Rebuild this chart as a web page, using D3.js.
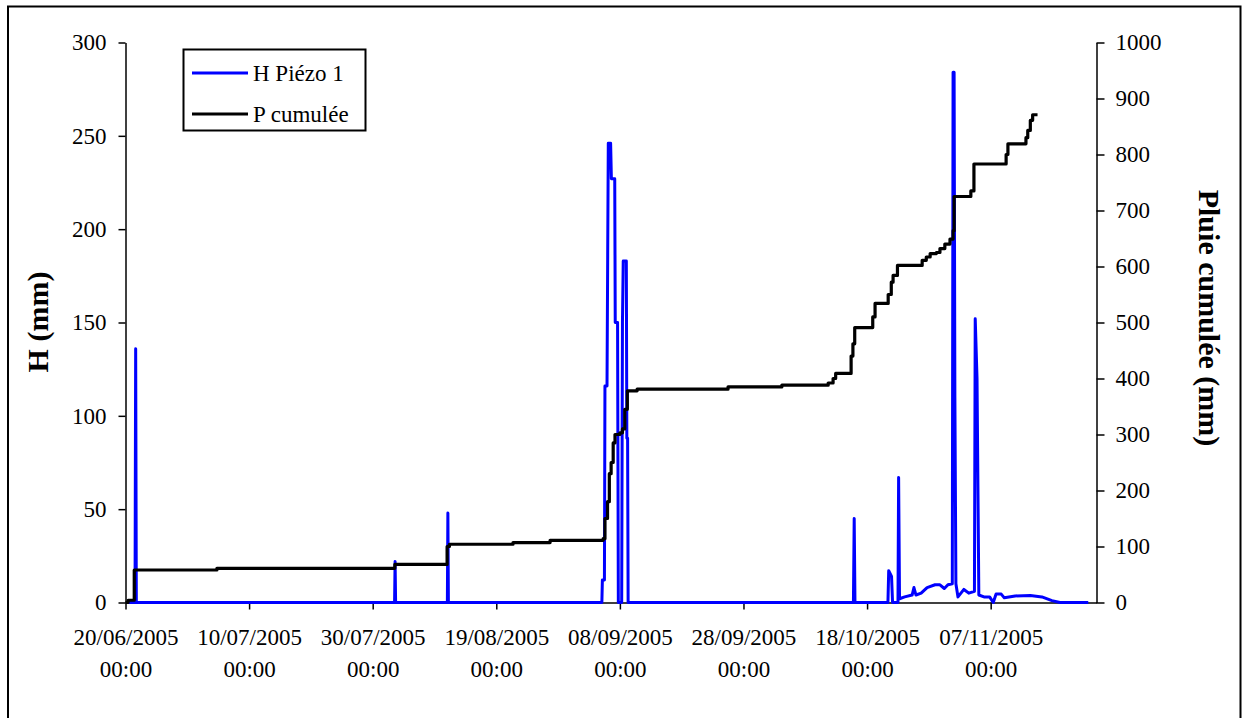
<!DOCTYPE html>
<html>
<head>
<meta charset="utf-8">
<script src="https://cdn.jsdelivr.net/npm/d3@7"></script>
<style>
  body { margin: 0; background: #fff; }
  svg { display: block; }
  text { font-family: "Liberation Serif", "Times New Roman", serif; fill: #000; }
</style>
</head>
<body>
<svg id="chart" width="1242" height="718"></svg>
<script>
// ---- data -------------------------------------------------------------
const seriesNames = ["H Piézo 1", "P cumulée"];

const xTickDates = ["20/06/2005", "10/07/2005", "30/07/2005", "19/08/2005",
                    "08/09/2005", "28/09/2005", "18/10/2005", "07/11/2005"];
const leftTicks  = [0, 50, 100, 150, 200, 250, 300];
const rightTicks = [0, 100, 200, 300, 400, 500, 600, 700, 800, 900, 1000];

// Piezometric height H (mm)
const hTimes = [
  "20/06/2005 02:00", "21/06/2005 13:00", "21/06/2005 15:30", "21/06/2005 18:00",
  "02/08/2005 13:00", "02/08/2005 15:00", "02/08/2005 17:00",
  "11/08/2005 02:00", "11/08/2005 04:00", "11/08/2005 06:00",
  "05/09/2005 02:00", "05/09/2005 04:00", "05/09/2005 12:00", "05/09/2005 14:00",
  "05/09/2005 22:00", "06/09/2005 03:00", "06/09/2005 12:00", "06/09/2005 15:00",
  "07/09/2005 04:00", "07/09/2005 06:00", "07/09/2005 15:00", "07/09/2005 18:00",
  "08/09/2005 07:00", "08/09/2005 10:00", "08/09/2005 13:00", "09/09/2005 01:00",
  "09/09/2005 03:00", "09/09/2005 06:00", "09/09/2005 08:00",
  "15/10/2005 19:00", "15/10/2005 22:00", "16/10/2005 01:00",
  "21/10/2005 09:00", "21/10/2005 12:00", "21/10/2005 23:00", "22/10/2005 03:00",
  "23/10/2005 00:00", "23/10/2005 02:30", "23/10/2005 06:00", "24/10/2005 02:00",
  "25/10/2005 07:00", "25/10/2005 14:00", "25/10/2005 22:00", "26/10/2005 18:00",
  "27/10/2005 17:00", "29/10/2005 00:00", "29/10/2005 19:00", "30/10/2005 12:00",
  "31/10/2005 02:00", "31/10/2005 19:00", "31/10/2005 22:00", "01/11/2005 02:00",
  "01/11/2005 05:00", "01/11/2005 09:00", "01/11/2005 17:00", "02/11/2005 16:00",
  "03/11/2005 11:00", "04/11/2005 09:00", "04/11/2005 12:00", "04/11/2005 19:00",
  "05/11/2005 02:00", "05/11/2005 22:00", "06/11/2005 20:00", "07/11/2005 10:00",
  "07/11/2005 21:00", "08/11/2005 17:00", "09/11/2005 05:00", "10/11/2005 23:00",
  "13/11/2005 10:00", "15/11/2005 07:00", "16/11/2005 22:00", "18/11/2005 05:00",
  "22/11/2005 19:00"
];
const hValues = [
  0, 0, 136, 0,
  0, 22, 0,
  0, 48, 0,
  0, 12, 12, 116,
  116, 246, 246, 227,
  227, 150, 150, 0,
  0, 150, 183, 183,
  88, 88, 0,
  0, 45, 0,
  0, 17, 14, 0,
  0, 67, 2, 3,
  4, 8, 4, 5,
  8, 9.5, 9.5, 7.5,
  9.5, 10, 284, 284,
  110, 10, 3, 7,
  5, 6, 152, 120,
  4, 3, 3, 0,
  4.5, 4.5, 2.5, 3.5,
  3.8, 3, 1, 0,
  0
];

// Cumulative rainfall P (mm)
const pTimes = [
  "20/06/2005 00:00", "20/06/2005 10:00", "21/06/2005 10:00", "04/07/2005 19:00",
  "02/08/2005 14:00", "11/08/2005 01:00", "11/08/2005 10:00", "21/08/2005 17:00",
  "27/08/2005 17:00", "05/09/2005 07:00", "05/09/2005 14:00", "06/09/2005 00:00",
  "06/09/2005 07:00", "06/09/2005 14:00", "06/09/2005 22:00", "07/09/2005 05:00",
  "08/09/2005 00:00", "08/09/2005 10:00", "08/09/2005 19:00", "09/09/2005 05:00",
  "10/09/2005 19:00", "25/09/2005 12:00", "04/10/2005 05:00", "11/10/2005 17:00",
  "12/10/2005 12:00", "12/10/2005 22:00", "15/10/2005 10:00", "15/10/2005 17:00",
  "16/10/2005 00:00", "18/10/2005 22:00", "19/10/2005 07:00", "21/10/2005 10:00",
  "21/10/2005 22:00", "22/10/2005 05:00", "22/10/2005 22:00", "26/10/2005 22:00",
  "27/10/2005 14:00", "28/10/2005 05:00", "29/10/2005 05:00", "29/10/2005 19:00",
  "30/10/2005 14:00", "31/10/2005 10:00", "31/10/2005 22:00", "01/11/2005 02:00",
  "03/11/2005 19:00", "04/11/2005 07:00", "09/11/2005 12:00", "09/11/2005 19:00",
  "12/11/2005 17:00", "13/11/2005 00:00", "13/11/2005 10:00", "13/11/2005 19:00",
  "14/11/2005 14:00"
];
const pValues = [
  0, 4, 58, 61,
  68, 100, 104, 107,
  111, 114, 150, 180,
  230, 250, 285, 300,
  303, 310, 345, 378,
  381, 385, 388, 392,
  400, 409, 440, 462,
  491, 510, 534, 550,
  572, 584, 602, 611,
  617, 623, 625, 632,
  640, 649, 664, 725,
  735, 783, 800, 819,
  830, 843, 861, 871,
  871
];

// ---- drawing ----------------------------------------------------------
const parse = d3.timeParse("%d/%m/%Y %H:%M");
const parseDay = d3.timeParse("%d/%m/%Y");

const svg = d3.select("#chart");
const plot = { left: 125.5, right: 1096.5, top: 42.5, bottom: 602.5 };

// outer frame
svg.append("rect")
  .attr("x", 8).attr("y", 6.5)
  .attr("width", 1232.5).attr("height", 730)
  .attr("fill", "#fff").attr("stroke", "#000").attr("stroke-width", 2);

const x = d3.scaleTime()
  .domain([parse("20/06/2005 00:00"), parse("24/11/2005 03:00")])
  .range([plot.left, plot.right]);
const yH = d3.scaleLinear().domain([0, 300]).range([plot.bottom, plot.top]);
const yP = d3.scaleLinear().domain([0, 1000]).range([plot.bottom, plot.top]);

const fontSize = 23;

// left axis
const gL = svg.append("g")
  .attr("transform", `translate(${plot.left},0)`)
  .call(d3.axisLeft(yH).tickValues(leftTicks).tickFormat(d3.format("d"))
    .tickSize(7).tickSizeOuter(0).tickPadding(12));
// right axis
const gR = svg.append("g")
  .attr("transform", `translate(${plot.right},0)`)
  .call(d3.axisRight(yP).tickValues(rightTicks).tickFormat(d3.format("d"))
    .tickSize(8).tickSizeOuter(0).tickPadding(11));
// bottom axis
const gB = svg.append("g")
  .attr("transform", `translate(0,${plot.bottom})`)
  .call(d3.axisBottom(x).tickValues(xTickDates.map(parseDay)).tickSize(7).tickSizeOuter(0).tickFormat(""));

[gL, gR, gB].forEach(g => {
  g.select(".domain").attr("stroke", "#000").attr("stroke-width", 1.5);
  g.selectAll(".tick line").attr("stroke", "#000").attr("stroke-width", 1.5);
  g.selectAll("text")
    .style("font-family", '"Liberation Serif", "Times New Roman", serif')
    .style("font-size", fontSize + "px").attr("fill", "#000");
});

// two-line date labels
const fmtDay = d3.timeFormat("%d/%m/%Y");
const fmtTime = d3.timeFormat("%H:%M");
gB.selectAll(".tick").each(function (d) {
  const t = d3.select(this).append("text")
    .attr("text-anchor", "middle")
    .style("font-size", fontSize + "px");
  t.append("tspan").attr("x", 0).attr("y", 42.5).text(fmtDay(d));
  t.append("tspan").attr("x", 0).attr("y", 74.5).text(fmtTime(d));
});

// axis titles
svg.append("text")
  .attr("transform", "translate(48,322) rotate(-90)")
  .attr("text-anchor", "middle")
  .style("font-size", "30px").style("font-weight", "bold")
  .text("H (mm)");
svg.append("text")
  .attr("transform", "translate(1199,318) rotate(90)")
  .attr("text-anchor", "middle")
  .style("font-size", "30px").style("font-weight", "bold")
  .text("Pluie cumulée (mm)");

// series
const hData = hTimes.map((t, i) => ({ t: parse(t), v: hValues[i] }));
const pData = pTimes.map((t, i) => ({ t: parse(t), v: pValues[i] }));

svg.append("path")
  .datum(hData)
  .attr("fill", "none").attr("stroke", "#0000FF").attr("stroke-width", 3)
  .attr("stroke-linejoin", "round")
  .attr("d", d3.line().x(d => x(d.t)).y(d => yH(d.v)));

svg.append("path")
  .datum(pData)
  .attr("fill", "none").attr("stroke", "#000").attr("stroke-width", 3.2)
  .attr("stroke-linejoin", "round")
  .attr("d", d3.line().curve(d3.curveStepAfter).x(d => x(d.t)).y(d => yP(d.v)));

// legend
const lg = svg.append("g");
lg.append("rect")
  .attr("x", 183.5).attr("y", 49.5).attr("width", 182).attr("height", 81)
  .attr("fill", "#fff").attr("stroke", "#000").attr("stroke-width", 2);
const legendColors = ["#0000FF", "#000"];
seriesNames.forEach((name, i) => {
  const cy = 73 + i * 41;
  lg.append("line")
    .attr("x1", 192).attr("x2", 248).attr("y1", cy).attr("y2", cy)
    .attr("stroke", legendColors[i]).attr("stroke-width", 3.2);
  lg.append("text")
    .attr("x", 253).attr("y", cy + 8)
    .style("font-size", fontSize + "px")
    .text(name);
});
</script>
</body>
</html>
